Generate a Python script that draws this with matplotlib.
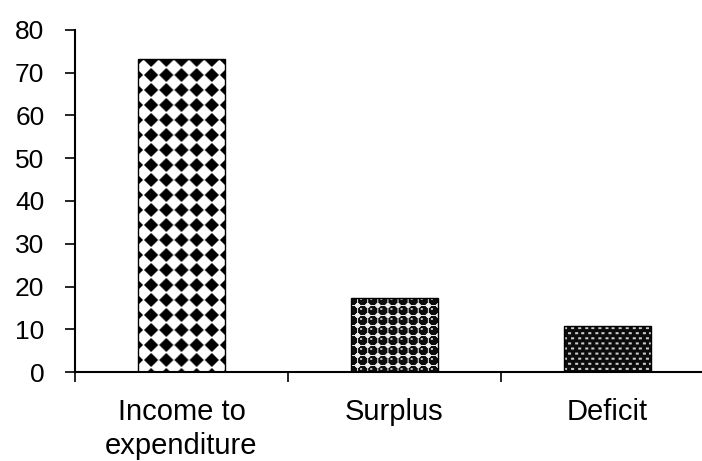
import numpy as np
import matplotlib
matplotlib.use('Agg')
import matplotlib.pyplot as plt

categories = ['Income to\nexpenditure', 'Surplus', 'Deficit']
values = [73.2, 17.2, 10.8]
yticks = [0, 10, 20, 30, 40, 50, 60, 70, 80]

plt.rcParams['font.family'] = ['Liberation Sans', 'DejaVu Sans']


def diamonds(h, w, p=15.0):
    # black diamonds on white, rotated checkerboard
    yy, xx = np.mgrid[0:h, 0:w].astype(float)
    u = (xx + 10) % p - p / 2
    v = (yy + 7) % p - p / 2
    d = np.abs(u) + np.abs(v)
    return np.clip((d - 0.47 * p) / 1.5 + 0.5, 0, 1)


def spheres(h, w, p=10.0):
    # dark balls with a small highlight on a light ground
    yy, xx = np.mgrid[0:h, 0:w].astype(float)
    u = (xx + 4) % p - p / 2
    v = (yy + 3) % p - p / 2
    r = np.hypot(u, v)
    img = np.full((h, w), 0.92)
    img[r < 0.45 * p] = 0.05
    hl = np.hypot(u + 0.12 * p, v + 0.15 * p)
    img[(r < 0.45 * p) & (hl < 0.12 * p)] = 0.75
    return img


def dashes(h, w, px=6.7, py=5.0):
    # dense black fill with staggered short white dashes
    yy, xx = np.mgrid[0:h, 0:w].astype(float)
    row = np.floor(yy / py)
    off = (row % 2) * px / 2
    on = (((xx - off) % px) < 3.0) & ((yy % py) >= 2) & ((yy % py) < 3.5)
    img = np.full((h, w), 0.05)
    img[on] = 0.8
    return img


fig = plt.figure(figsize=(7.02, 4.61), dpi=100)
ax = fig.add_axes([75 / 702, 1 - 372 / 461, 639 / 702, 342 / 461])

x = np.arange(len(categories))
bars = ax.bar(x, values, width=0.41, facecolor='none', edgecolor='black',
              linewidth=1.0, zorder=3)

ax.set_xlim(-0.5, len(categories) - 0.5)
ax.set_ylim(0, 80)
ax.set_yticks(yticks)
ax.tick_params(axis='y', labelsize=19, length=7, width=1.2, direction='out', pad=15)

# tick marks between categories, labels under the bar centres
ax.set_xticks(np.arange(len(categories) + 1) - 0.5)
ax.set_xticklabels([])
ax.set_xticks(x, minor=True)
ax.set_xticklabels(categories, minor=True, fontsize=21, linespacing=1.25)
ax.tick_params(axis='x', which='major', length=7, width=1.2, direction='out')
ax.tick_params(axis='x', which='minor', length=0, pad=19)

for s in ['top', 'right']:
    ax.spines[s].set_visible(False)
for s in ['left', 'bottom']:
    ax.spines[s].set_linewidth(1.5)

fig.canvas.draw()
renderer = fig.canvas.get_renderer()
fills = [diamonds, spheres, dashes]
for bar, fill in zip(bars, fills):
    bb = bar.get_window_extent(renderer)
    h, w = int(round(bb.height)), int(round(bb.width))
    x0, y0 = bar.get_x(), bar.get_y()
    im = ax.imshow(fill(h, w), cmap='gray', vmin=0, vmax=1, aspect='auto',
                   interpolation='bilinear', origin='upper', zorder=2,
                   extent=(x0, x0 + bar.get_width(), y0, y0 + bar.get_height()))
    im.set_clip_path(bar)

ax.set_xlim(-0.5, len(categories) - 0.5)
ax.set_ylim(0, 80)

fig.savefig('out.png', dpi=100)
